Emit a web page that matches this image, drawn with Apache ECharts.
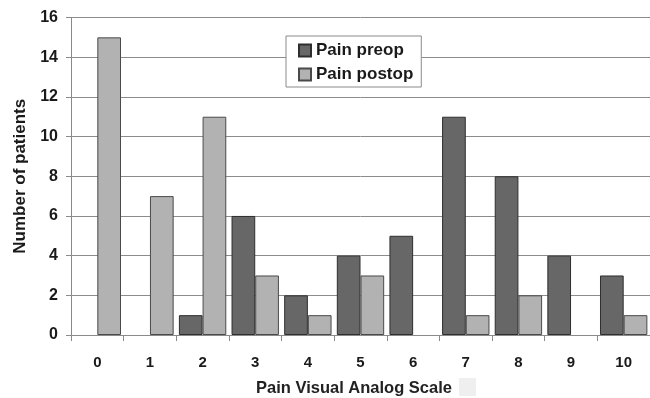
<!DOCTYPE html>
<html>
<head>
<meta charset="utf-8">
<script src="https://cdn.jsdelivr.net/npm/echarts@6/dist/echarts.min.js"></script>
<style>
  html, body { margin: 0; padding: 0; background: #fff; }
  #chart { width: 650px; height: 398px; }
</style>
</head>
<body>
<div id="chart"></div>
<script>
// Pain scores before and after surgery, counted per VAS level
const categories = ['0', '1', '2', '3', '4', '5', '6', '7', '8', '9', '10'];
const painPreop  = [0, 0, 1, 6, 2, 4, 5, 11, 8, 4, 3];
const painPostop = [15, 7, 11, 3, 1, 3, 0, 1, 2, 0, 1];
const yTicks = { min: 0, max: 16, interval: 2 };

const FONT = '"Liberation Sans", Arial, sans-serif';
const TEXT = '#1a1a1a';

// zero counts get no outline so no stray line sits on the axis
function toBars(values) {
  return values.map(v => v === 0 ? { value: v, itemStyle: { borderWidth: 0, opacity: 0 } } : v);
}

const chart = echarts.init(document.getElementById('chart'), null, { renderer: 'canvas' });

chart.setOption({
  animation: false,
  backgroundColor: '#ffffff',
  grid: { left: 71, top: 17.5, width: 587, height: 317.5, containLabel: false },
  legend: {
    orient: 'vertical',
    left: 286,
    top: 36,
    itemWidth: 12,
    itemHeight: 12,
    itemGap: 5,
    padding: [5, 8, 3, 12],
    backgroundColor: '#ffffff',
    borderColor: '#8a8a8a',
    borderWidth: 1,
    borderRadius: 0,
    textStyle: { fontFamily: FONT, fontWeight: 'bold', fontSize: 17, color: TEXT, lineHeight: 19 },
    data: [
      { name: 'Pain preop', icon: 'rect' },
      { name: 'Pain postop', icon: 'rect' }
    ]
  },
  xAxis: {
    type: 'category',
    data: categories,
    boundaryGap: true,
    axisLine: { show: true, lineStyle: { color: '#8a8a8a', width: 1 } },
    axisTick: { show: true, length: 6, lineStyle: { color: '#8a8a8a' } },
    axisLabel: { margin: 20, fontFamily: FONT, fontWeight: 'bold', fontSize: 15, color: TEXT },
    splitLine: { show: false }
  },
  yAxis: {
    type: 'value',
    min: yTicks.min,
    max: yTicks.max,
    interval: yTicks.interval,
    name: 'Number of patients',
    nameLocation: 'middle',
    nameGap: 42,
    nameRotate: 90,
    nameTextStyle: { fontFamily: FONT, fontWeight: 'bold', fontSize: 17, color: TEXT },
    axisLine: { show: true, lineStyle: { color: '#8a8a8a', width: 1 } },
    axisTick: { show: true, length: 5, lineStyle: { color: '#8a8a8a' } },
    axisLabel: { margin: 13, fontFamily: FONT, fontWeight: 'bold', fontSize: 16, color: TEXT },
    splitLine: { show: true, lineStyle: { color: '#8c8c8c', width: 1 } }
  },
  graphic: [
    {
      type: 'text',
      left: 256,
      top: 380,
      style: {
        text: 'Pain Visual Analog Scale',
        fontFamily: FONT,
        fontWeight: 'bold',
        fontSize: 16.5,
        fill: '#222'
      }
    },
    {
      type: 'rect',
      shape: { x: 459, y: 378, width: 17, height: 18 },
      style: { fill: '#efefef' }
    }
  ],
  series: [
    {
      name: 'Pain preop',
      type: 'bar',
      data: toBars(painPreop),
      barGap: '0%',
      barCategoryGap: '10%',
      itemStyle: { color: '#676767', borderColor: '#2e2e2e', borderWidth: 1 }
    },
    {
      name: 'Pain postop',
      type: 'bar',
      data: toBars(painPostop),
      barGap: '0%',
      barCategoryGap: '10%',
      itemStyle: { color: '#b2b2b2', borderColor: '#4a4a4a', borderWidth: 1 }
    }
  ]
});
</script>
</body>
</html>
